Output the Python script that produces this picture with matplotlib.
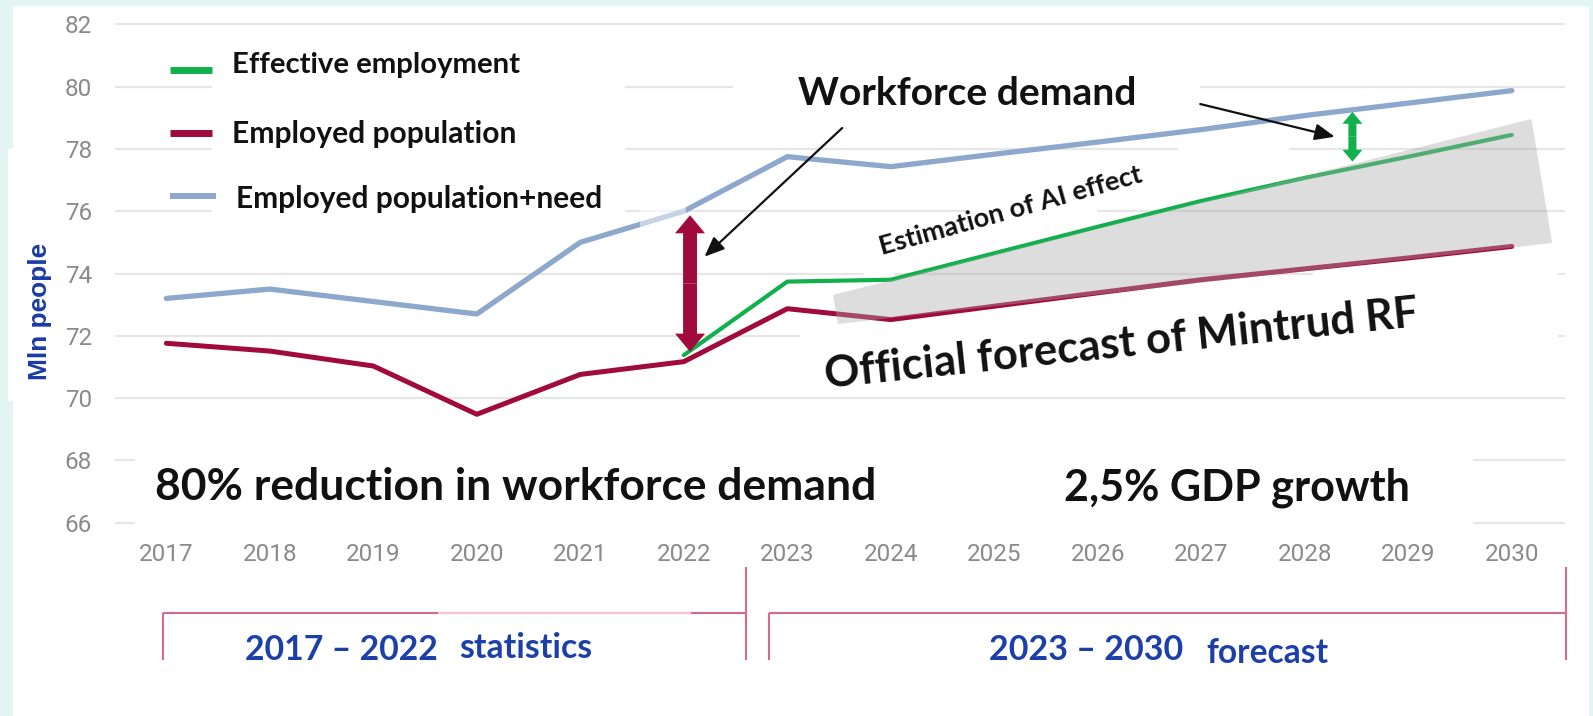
import matplotlib
matplotlib.use('Agg')
import math
import matplotlib.pyplot as plt
from matplotlib.patches import Polygon, Rectangle, FancyArrowPatch, ArrowStyle
from matplotlib.lines import Line2D

# ---------------- data ----------------
years = list(range(2017, 2031))
x_labels = [str(y) for y in years]
need = [73.2, 73.5, 73.1, 72.7, 75.0, 76.0, 77.75, 77.43, 77.83, 78.22, 78.62, 79.07, 79.47, 79.87]
employed = [71.76, 71.51, 71.03, 69.48, 70.76, 71.17, 72.87, 72.52, 72.95, 73.38, 73.8, 74.15, 74.5, 74.87]
effective_years = list(range(2022, 2031))
effective = [71.38, 73.74, 73.8, 74.65, 75.5, 76.33, 77.07, 77.75, 78.45]
ai_x = [2023.44, 2030.19, 2030.39, 2023.49]
ai_y = [73.31, 78.96, 74.98, 72.38]
y_ticks = [66, 68, 70, 72, 74, 76, 78, 80, 82]

red_arrow_x, red_arrow_lo, red_arrow_hi = 2022.06, 71.49, 75.87
green_arrow_x, green_arrow_lo, green_arrow_hi = 2028.46, 77.59, 79.19
demand_arrow_left = [(2023.53, 78.67), (2022.2, 74.54)]
demand_arrow_right = [(2026.99, 79.44), (2028.29, 78.39)]

legend_labels = ['Effective employment', 'Employed population', 'Employed population+need']

# ---------------- colours ----------------
C_BG = '#e3f5f3'
C_BLUE = '#8da7cd'
C_RED = '#a00a3c'
C_GREEN = '#12b04c'
C_GRID = '#e6e6e6'
C_TICK = '#8a8a8a'
C_TXT = '#111111'
C_NAVY = '#1c40a8'
C_BRACKET = '#d66a8a'

W, H = 1593, 716
def fx(x):
    return x / W
def fy(y):
    return 1 - y / H

fig = plt.figure(figsize=(W / 100, H / 100), dpi=100)
fig.patch.set_facecolor(C_BG)
fig.add_artist(Rectangle((fx(13), fy(716)), (1589 - 13) / W, (716 - 6) / H,
                         transform=fig.transFigure, facecolor='white', edgecolor='none', zorder=-10))
fig.add_artist(Rectangle((fx(8), fy(401)), 10 / W, (401 - 149) / H,
                         transform=fig.transFigure, facecolor='white', edgecolor='none', zorder=-10))

AX_L, AX_R, AX_T, AX_B = 115, 1565, 24.3, 522.7
pos = [AX_L / W, 1 - AX_B / H, (AX_R - AX_L) / W, (AX_B - AX_T) / H]
xlim = (2016.504, 2030.514)
ylim = (66, 82)

ax = fig.add_axes(pos)
ax.set_facecolor('none')
ax.set_xlim(*xlim)
ax.set_ylim(*ylim)
ax.set_yticks(y_ticks)
ax.set_xticks(years)
ax.set_xticklabels(x_labels)
ax.grid(False)
for s in ax.spines.values():
    s.set_visible(False)
ax.tick_params(axis='both', length=0, labelsize=17.5, labelcolor=C_TICK)
ax.tick_params(axis='y', pad=16.6)
ax.tick_params(axis='x', pad=14.3)
for lbl in ax.get_xticklabels() + ax.get_yticklabels():
    lbl.set_fontfamily('Roboto')

# white boxes of the original slide (pixel polygons) – gridlines are interrupted under them
boxes = [
    [(212, 32), (625, 32), (625, 222), (212, 222)],
    [(733, 45), (1200, 45), (1200, 128), (733, 128)],
    [(855, 244), (1280, 119), (1290, 152), (866, 282)],
    [(800, 333), (1558, 245), (1558, 342), (806, 396)],
    [(135, 445), (1473, 445), (1473, 530), (135, 530)],
]

def hidden_interval(poly, yg):
    xs = []
    n = len(poly)
    for i in range(n):
        (x1, y1), (x2, y2) = poly[i], poly[(i + 1) % n]
        if y1 == y2:
            continue
        if (y1 - yg) * (y2 - yg) <= 0:
            xs.append(x1 + (yg - y1) * (x2 - x1) / (y2 - y1))
    if len(xs) >= 2:
        return (min(xs), max(xs))
    return None

for yt in y_ticks:
    yg = H - ax.transData.transform((xlim[0], yt))[1]
    segs = [(AX_L, AX_R)]
    for poly in boxes:
        iv = hidden_interval(poly, yg)
        if iv is None:
            continue
        new = []
        for a, b in segs:
            if iv[1] <= a or iv[0] >= b:
                new.append((a, b))
            else:
                if iv[0] > a:
                    new.append((a, iv[0]))
                if iv[1] < b:
                    new.append((iv[1], b))
        segs = new
    for a, b in segs:
        fig.add_artist(Line2D([fx(a), fx(b)], [fy(yg), fy(yg)], transform=fig.transFigure,
                              color=C_GRID, lw=1.6, solid_capstyle='butt', zorder=-5))

# lines
ax.plot(years, need, color=C_BLUE, lw=3.8, zorder=3, solid_capstyle='round')
ax.plot(years, employed, color=C_RED, lw=3.6, zorder=3, solid_capstyle='round')
ax.plot(effective_years, effective, color=C_GREEN, lw=3.0, zorder=3, solid_capstyle='round')

# faded part of blue line near 2022
ax.add_patch(Polygon([(fx(x), fy(y)) for x, y in [(640, 198), (686, 198), (686, 238), (640, 238)]],
                     closed=True, transform=fig.transFigure, facecolor='white', edgecolor='none',
                     alpha=0.5, zorder=3.5))

# AI effect shading
ax.fill(ai_x, ai_y, facecolor='#aaaaaa', alpha=0.4, edgecolor='none', zorder=4)

# double arrows
def double_arrow(x, lo, hi, color, hl, hw, tw):
    mid = (lo + hi) / 2
    for end in (lo, hi):
        ax.add_patch(FancyArrowPatch((x, mid), (x, end),
                                     arrowstyle=ArrowStyle('Simple', head_length=hl, head_width=hw, tail_width=tw),
                                     mutation_scale=1, color=color, lw=0, shrinkA=0, shrinkB=0, zorder=5))

double_arrow(red_arrow_x, red_arrow_lo, red_arrow_hi, C_RED, 13, 21.6, 10)
double_arrow(green_arrow_x, green_arrow_lo, green_arrow_hi, C_GREEN, 8.6, 14.4, 5.8)

for a, b in (demand_arrow_left, demand_arrow_right):
    ax.add_patch(FancyArrowPatch(a, b, arrowstyle=ArrowStyle('-|>', head_length=1.2, head_width=0.5),
                                 mutation_scale=10, lw=1.6, color=C_TXT, shrinkA=0, shrinkB=0, zorder=5))

# legend samples
for (x1, x2, y), c, lw in (((170, 212, 70), C_GREEN, 5.0), ((170, 212, 133), C_RED, 5.0),
                           ((170, 216, 196), C_BLUE, 4.3)):
    fig.add_artist(Line2D([fx(x1), fx(x2)], [fy(y), fy(y)], transform=fig.transFigure,
                          color=c, lw=lw, solid_capstyle='butt', zorder=2))

renderer = fig.canvas.get_renderer()

def fit_text(x, y, s, target_w, family='Lato', weight='bold', color=C_TXT, rot=0, ha='left', va='baseline'):
    t = fig.text(fx(x), fy(y), s, fontsize=20, fontfamily=family, fontweight=weight, color=color,
                 ha=ha, va=va, rotation_mode='anchor', zorder=6)
    w = t.get_window_extent(renderer).width
    t.set_fontsize(20 * target_w / w)
    if rot:
        t.set_rotation(rot)
    return t

fit_text(232, 72.7, legend_labels[0], 288)
fit_text(232, 142.7, legend_labels[1], 284)
fit_text(235.7, 208.3, legend_labels[2], 366)
fit_text(798, 105, 'Workforce demand', 338)
fit_text(155, 500, '80% reduction in workforce demand', 721)
fit_text(1064.5, 500, '2,5% GDP growth', 345.5)
fit_text(826, 388, 'Official forecast of Mintrud RF', 596,
         rot=math.degrees(math.atan2(61.7, 591.4)))
fit_text(882, 255, 'Estimation of AI effect', 272, weight='bold',
         rot=math.degrees(math.atan2(73.3, 262)))
fit_text(245, 660, '2017 – 2022', 193, color=C_NAVY)
fit_text(459, 658.3, 'statistics', 132.5, color=C_NAVY)
fit_text(989, 660, '2023 – 2030', 194, color=C_NAVY)
fit_text(1206, 663.3, 'forecast', 122, color=C_NAVY)
fit_text(39.5, 311.5, 'Mln people', 137, family='Liberation Sans', color='#1a3aa6',
         rot=90, ha='center', va='center')

# bottom brackets
def seg(x1, y1, x2, y2, color=C_BRACKET, lw=1.5):
    fig.add_artist(Line2D([fx(x1), fx(x2)], [fy(y1), fy(y2)], transform=fig.transFigure,
                          color=color, lw=lw, solid_capstyle='butt', zorder=2))

seg(163.3, 613.3, 746, 613.3)
seg(438, 613.3, 691, 613.3, color='#f0c8d4', lw=1.6)
seg(163.3, 613.3, 163.3, 660)
seg(746, 566.7, 746, 660)
seg(768.6, 613.3, 1566, 613.3)
seg(768.6, 613.3, 768.6, 660)
seg(1566, 566.7, 1566, 660)

fig.savefig('out.png', dpi=100, facecolor=fig.get_facecolor())
